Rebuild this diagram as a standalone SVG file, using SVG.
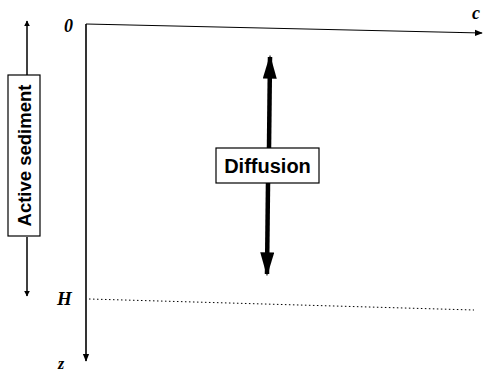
<svg xmlns="http://www.w3.org/2000/svg" width="484" height="375" viewBox="0 0 484 375">
<style>
.lbl{font-family:"Liberation Sans",Arial,sans-serif;font-weight:bold;fill:#000}
.ax{font-family:"Liberation Serif","Times New Roman",serif;font-weight:bold;font-style:italic;fill:#000}
.box{fill:#fff;stroke:#000;stroke-width:1.2}
</style>
<defs>
<marker id="ah" viewBox="0 0 10 10" refX="9" refY="5" markerWidth="6" markerHeight="6" markerUnits="userSpaceOnUse" orient="auto"><path d="M0,0 L10,5 L0,10 z" fill="#000"/></marker>
<marker id="ahs" viewBox="0 0 10 10" refX="9" refY="5" markerWidth="8" markerHeight="8" markerUnits="userSpaceOnUse" orient="auto"><path d="M0,1 L10,5 L0,9 z" fill="#000"/></marker>
<marker id="ahb" viewBox="0 0 10 10" refX="9" refY="5" markerWidth="24" markerHeight="14" markerUnits="userSpaceOnUse" orient="auto" preserveAspectRatio="none"><path d="M0,0 L10,5 L0,10 z" fill="#000"/></marker>
</defs>
<rect width="484" height="375" fill="#fff"/>
<g id="connectors">
<line x1="86" y1="24" x2="86" y2="361" stroke="#000" stroke-width="1.6" marker-end="url(#ahs)"/>
<line x1="86" y1="24" x2="482" y2="33" stroke="#000" stroke-width="1.2" marker-end="url(#ahs)"/>
<line x1="89" y1="299" x2="474" y2="310" stroke="#000" stroke-width="1" stroke-dasharray="1.5 2.5"/>
<line x1="27" y1="75" x2="27" y2="21" stroke="#000" stroke-width="1.5" marker-end="url(#ah)"/>
<line x1="27" y1="237" x2="27" y2="296" stroke="#000" stroke-width="1.5" marker-end="url(#ah)"/>
<line x1="269" y1="148" x2="270" y2="57" stroke="#000" stroke-width="4.5" marker-end="url(#ahb)"/>
<line x1="268" y1="183" x2="267" y2="274" stroke="#000" stroke-width="4.5" marker-end="url(#ahb)"/>
</g>
<g id="axis-labels">
<text class="ax" x="64" y="32" font-size="18">0</text>
<text class="ax" x="472" y="19" font-size="18">c</text>
<text class="ax" x="57" y="305" font-size="19">H</text>
<text class="ax" x="58" y="369" font-size="16">z</text>
</g>
<g id="active-sediment">
<rect class="box" x="8" y="75" width="32" height="161"/>
<text class="lbl" x="0" y="0" font-size="18.5" text-anchor="middle" transform="translate(31,155.5) rotate(-90)">Active sediment</text>
</g>
<g id="diffusion">
<rect class="box" x="216" y="148" width="103" height="35"/>
<text class="lbl" x="267.5" y="173" font-size="20" text-anchor="middle">Diffusion</text>
</g>
</svg>
